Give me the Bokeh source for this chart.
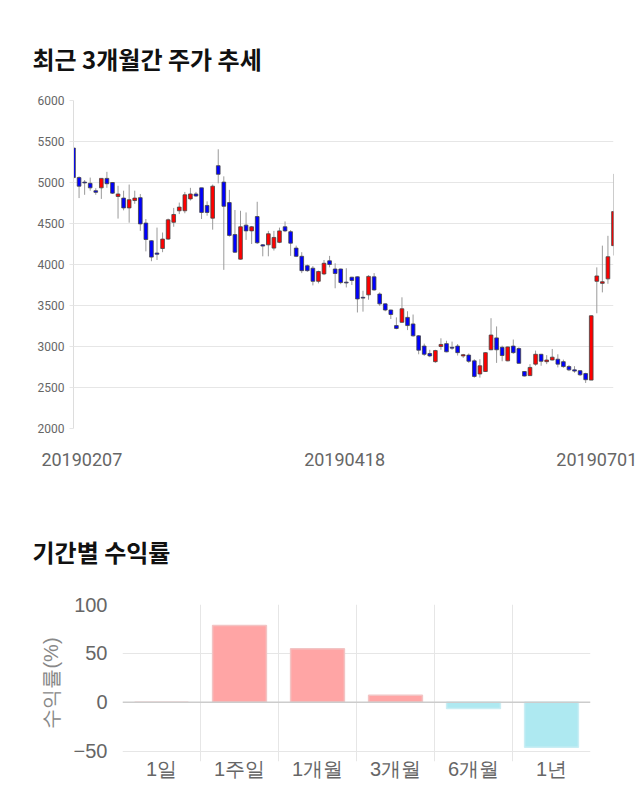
from bokeh.plotting import figure
from bokeh.models import Range1d, FixedTicker, ColumnDataSource, Span
from bokeh.embed import file_html
from bokeh.resources import INLINE

# ---------------- data: daily candles (20190207 .. 20190701) ----------------
opens = [5420, 5060, 5005, 4990, 4900, 4935, 5050, 5000, 4830, 4810,
         4690, 4780, 4815, 4505, 4290, 4140, 4195, 4310, 4515, 4655,
         4655, 4800, 4860, 4935, 4720, 4565, 5205, 5005, 4755, 4365,
         4065, 4480, 4410, 4585, 4240, 4240, 4200, 4270, 4460, 4400,
         4200, 4100, 3985, 3955, 3795, 3885, 4045, 3945, 3945, 3785,
         3845, 3850, 3600, 3630, 3850, 3640, 3520, 3445, 3255, 3295,
         3355, 3275, 3130, 3005, 2915, 2815, 3000, 3035, 2990, 3005,
         2885, 2895, 2825, 2665, 2695, 2960, 3105, 2990, 2825, 3005,
         2975, 2695, 2645, 2785, 2905, 2815, 2835, 2845, 2815, 2755,
         2715, 2705, 2670, 2590, 3795, 3770, 3825, 4230]
highs = [5430, 5075, 5030, 5060, 4930, 5050, 5130, 5005, 4960, 4900,
         4975, 4900, 4860, 4555, 4295, 4450, 4390, 4560, 4690, 4755,
         4885, 4935, 4885, 4935, 4770, 4975, 5405, 5075, 4910, 4665,
         4655, 4635, 4470, 4765, 4250, 4410, 4410, 4450, 4525, 4420,
         4230, 4150, 4000, 3980, 3925, 4055, 4105, 4015, 3950, 3955,
         3850, 3855, 3680, 3870, 3895, 3660, 3525, 3450, 3355, 3600,
         3430, 3390, 3140, 3035, 2960, 2960, 3100, 3070, 3060, 3030,
         2910, 2915, 2845, 2845, 2930, 3345, 3245, 3010, 3000, 3085,
         2990, 2700, 2785, 2950, 2910, 2895, 2970, 2905, 2840, 2775,
         2760, 2710, 2680, 3380, 3965, 4230, 4350, 5105]
lows = [5060, 4810, 4850, 4900, 4850, 4800, 4935, 4860, 4560, 4660,
        4510, 4740, 4410, 4160, 4040, 4055, 4150, 4300, 4460, 4615,
        4625, 4780, 4825, 4555, 4595, 4425, 4990, 3935, 4340, 4140,
        4060, 4300, 4250, 4250, 4100, 4100, 4170, 4260, 4395, 4105,
        4090, 3895, 3910, 3745, 3770, 3870, 3965, 3710, 3760, 3720,
        3750, 3415, 3425, 3570, 3680, 3495, 3430, 3335, 3210, 3290,
        3200, 3120, 2905, 2885, 2870, 2800, 2960, 2930, 2960, 2890,
        2860, 2800, 2620, 2620, 2690, 2955, 2800, 2820, 2820, 2910,
        2790, 2635, 2640, 2765, 2765, 2785, 2830, 2745, 2740, 2700,
        2680, 2640, 2555, 2590, 3405, 3660, 3765, 4110]
closes = [5060, 4955, 4995, 4935, 4880, 5050, 4985, 4870, 4860, 4690,
          4790, 4810, 4495, 4305, 4090, 4125, 4310, 4545, 4610, 4700,
          4850, 4860, 4835, 4635, 4635, 4955, 5100, 4710, 4355, 4150,
          4460, 4410, 4460, 4265, 4225, 4375, 4330, 4410, 4410, 4260,
          4100, 3925, 3925, 3795, 3915, 4015, 4000, 3890, 3780, 3775,
          3805, 3580, 3590, 3855, 3690, 3520, 3445, 3390, 3220, 3460,
          3255, 3130, 2955, 2905, 2885, 2950, 3025, 2935, 2980, 2925,
          2900, 2820, 2635, 2765, 2925, 3140, 2960, 2890, 2995, 2925,
          2795, 2640, 2745, 2905, 2820, 2835, 2870, 2785, 2755, 2715,
          2700, 2655, 2595, 3375, 3860, 3790, 4095, 4645]
date_labels = ["20190207", "20190418", "20190701"]
price_ticks = [2000, 2500, 3000, 3500, 4000, 4500, 5000, 5500, 6000]

# ---------------- data: period returns ----------------
periods = ["1일", "1주일", "1개월", "3개월", "6개월", "1년"]
returns = [0.0, 78.4, 54.8, 7.2, -6.5, -46.2]
return_ticks = [-50, 0, 50, 100]

# ---------------- styling / layout constants ----------------
TITLE_FONT = "Noto Sans CJK KR"
GRID = "#e6e6e6"
label_positions = [1.5, 48.7, 94.0]   # where the date labels sit on the index axis

# ================= chart 1 : candles =================
n = len(opens)
idx = list(range(n))
src = ColumnDataSource(dict(
    x=idx,
    high=highs,
    low=lows,
    top=[max(o, c) for o, c in zip(opens, closes)],
    bottom=[min(o, c) for o, c in zip(opens, closes)],
    color=["#ff0000" if c >= o else "#0000ff" for o, c in zip(opens, closes)],
))

p1 = figure(width=640, height=490, x_range=Range1d(0, n - 1),
            y_range=Range1d(2000, 6000), output_backend="svg",
            toolbar_location=None, title="최근 3개월간 주가 추세",
            min_border_left=73, min_border_right=27,
            min_border_top=100, min_border_bottom=62,
            outline_line_color=None, background_fill_color="white",
            border_fill_color="white")
p1.title.text_font = TITLE_FONT
p1.title.text_font_size = "24px"
p1.title.text_font_style = "bold"
p1.title.text_color = "#111111"
p1.title.align = "left"
p1.title.offset = -41
p1.title.standoff = 50

p1.segment(x0="x", y0="low", x1="x", y1="high", source=src,
           line_color="#9a9a9a", line_width=1)
p1.vbar(x="x", top="top", bottom="bottom", width=0.66, source=src,
        fill_color="color", line_color="#444444", line_width=0.8)

p1.xgrid.grid_line_color = None
p1.ygrid.grid_line_color = GRID
p1.ygrid.ticker = FixedTicker(ticks=price_ticks)

p1.yaxis.ticker = FixedTicker(ticks=price_ticks)
p1.yaxis.axis_line_color = "#dddddd"
p1.yaxis.major_tick_line_color = "#e6e6e6"
p1.yaxis.major_tick_out = 4
p1.yaxis.major_tick_in = 0
p1.yaxis.minor_tick_line_color = None
p1.yaxis.major_label_text_font = "Roboto"
p1.yaxis.major_label_text_font_size = "12px"
p1.yaxis.major_label_text_color = "#666666"
p1.yaxis.major_label_standoff = 5

p1.xaxis.ticker = FixedTicker(ticks=label_positions)
p1.xaxis.major_label_overrides = {t: lab for t, lab in zip(label_positions, date_labels)}
p1.xaxis.axis_line_color = None
p1.xaxis.major_tick_line_color = None
p1.xaxis.minor_tick_line_color = None
p1.xaxis.major_label_text_font = "Roboto"
p1.xaxis.major_label_text_font_size = "18px"
p1.xaxis.major_label_text_color = "#666666"
p1.xaxis.major_label_standoff = 18

# ================= chart 2 : period returns =================
centers = [i + 0.5 for i in range(len(periods))]
src2 = ColumnDataSource(dict(
    x=centers,
    top=returns,
    fill=["#ffa5a5" if r >= 0 else "#aee9f1" for r in returns],
    line=["#f2c4c4" if r >= 0 else "#c9eef4" for r in returns],
))

p2 = figure(width=640, height=320, x_range=Range1d(0, len(periods)),
            y_range=Range1d(-60.7, 100), output_backend="svg",
            toolbar_location=None, title="기간별 수익률",
            min_border_left=122, min_border_right=50,
            min_border_top=114, min_border_bottom=49,
            outline_line_color=None, background_fill_color="white",
            border_fill_color="white")
p2.title.text_font = TITLE_FONT
p2.title.text_font_size = "24px"
p2.title.text_font_style = "bold"
p2.title.text_color = "#111111"
p2.title.align = "left"
p2.title.offset = -90
p2.title.standoff = 72

p2.vbar(x="x", top="top", bottom=0, width=0.69, source=src2,
        fill_color="fill", line_color="line", line_width=1.5)

p2.xgrid.ticker = FixedTicker(ticks=list(range(len(periods))))
p2.xgrid.grid_line_color = GRID
p2.ygrid.ticker = FixedTicker(ticks=[t for t in return_ticks if t != 0])
p2.ygrid.grid_line_color = GRID
p2.add_layout(Span(location=0, dimension="width", line_color="#cccccc", line_width=1.5))

p2.yaxis.ticker = FixedTicker(ticks=return_ticks)
p2.yaxis.axis_line_color = None
p2.yaxis.major_tick_line_color = None
p2.yaxis.minor_tick_line_color = None
p2.yaxis.major_label_text_font = "Liberation Sans"
p2.yaxis.major_label_text_font_size = "20px"
p2.yaxis.major_label_text_color = "#666666"
p2.yaxis.major_label_standoff = 9
p2.yaxis.axis_label = "수익률(%)"
p2.yaxis.axis_label_text_font = "Liberation Sans"
p2.yaxis.axis_label_text_font_size = "20px"
p2.yaxis.axis_label_text_font_style = "normal"
p2.yaxis.axis_label_text_color = "#888888"
p2.yaxis.axis_label_standoff = 9

p2.xaxis.ticker = FixedTicker(ticks=centers)
p2.xaxis.major_label_overrides = {c: lab for c, lab in zip(centers, periods)}
p2.xaxis.axis_line_color = None
p2.xaxis.major_tick_line_color = None
p2.xaxis.minor_tick_line_color = None
p2.xaxis.major_label_text_font = "Liberation Sans"
p2.xaxis.major_label_text_font_size = "20px"
p2.xaxis.major_label_text_color = "#666666"
p2.xaxis.major_label_standoff = -10

open("out.html", "w").write(file_html([p1, p2], INLINE))
